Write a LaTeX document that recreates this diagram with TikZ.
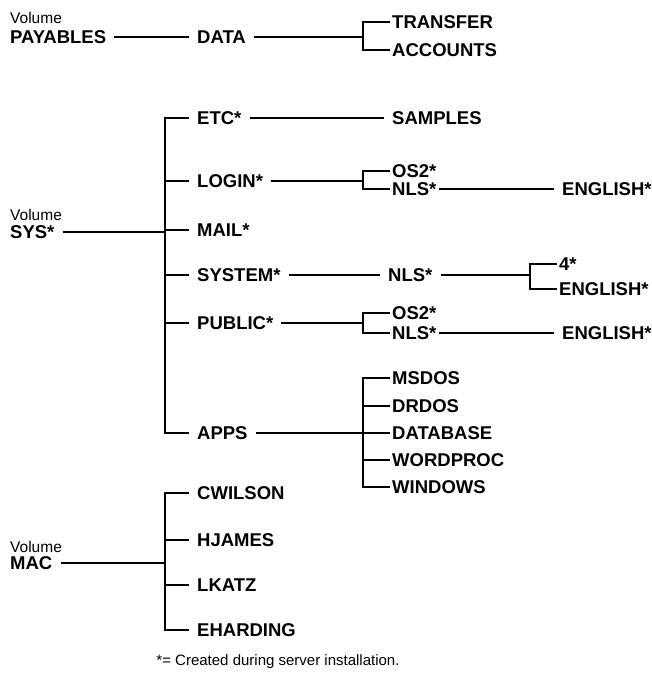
\documentclass[tikz,border=0pt]{standalone}
\usepackage{fontspec}
\setmainfont{Liberation Sans}
\usepackage{tikz}

\begin{document}
\begin{tikzpicture}[x=1pt, y=-1pt,
    folder/.style={anchor=west, font=\fontsize{18.5}{21}\selectfont\bfseries, inner xsep=8pt, inner ysep=1pt, text height=13pt, text depth=0pt},
    subfolder/.style={folder, inner xsep=2pt},
    volname/.style={anchor=west, font=\fontsize{15.5}{18}\selectfont, inner sep=0pt},
    note/.style={font=\fontsize{15}{18}\selectfont, inner sep=0pt},
    branch/.style={line width=1.8pt}]
    \useasboundingbox (0,0) rectangle (651,679);

    % Volume PAYABLES
    \node[volname] (V_PAY) at (10,18) {Volume};
    \node[folder] (D_PAY) at (2,37) {PAYABLES};
    \node[folder] (D_DATA) at (189,37) {DATA};
    \coordinate (B_DATA) at (363,37);
    \node[subfolder] (D_TRANSFER) at (390,22) {TRANSFER};
    \node[subfolder] (D_ACCOUNTS) at (390,50) {ACCOUNTS};

    % Volume SYS
    \node[volname] (V_SYS) at (10,215) {Volume};
    \node[folder] (D_SYS) at (2,232) {SYS*};
    \coordinate (T_SYS) at (165,232);
    \node[folder] (D_ETC) at (189,118) {ETC*};
    \node[folder] (D_SAMPLES) at (384,118) {SAMPLES};
    \node[folder] (D_LOGIN) at (189,181) {LOGIN*};
    \coordinate (B_LOGIN) at (363,181);
    \node[subfolder] (D_LOS2) at (390,171) {OS2*};
    \node[subfolder] (D_LNLS) at (390,189) {NLS*};
    \node[folder] (D_LENG) at (554,189) {ENGLISH*};
    \node[folder] (D_MAIL) at (189,230) {MAIL*};
    \node[folder] (D_SYSTEM) at (189,275) {SYSTEM*};
    \node[folder] (D_SNLS) at (380,275) {NLS*};
    \coordinate (B_SNLS) at (530,275);
    \node[subfolder] (D_S4) at (557,264) {4*};
    \node[subfolder] (D_SENG) at (557,289) {ENGLISH*};
    \node[folder] (D_PUBLIC) at (189,323) {PUBLIC*};
    \coordinate (B_PUBLIC) at (363,323);
    \node[subfolder] (D_POS2) at (390,313) {OS2*};
    \node[subfolder] (D_PNLS) at (390,333) {NLS*};
    \node[folder] (D_PENG) at (554,333) {ENGLISH*};
    \node[folder] (D_APPS) at (189,433) {APPS};
    \coordinate (B_APPS) at (363,433);
    \node[subfolder] (D_MSDOS) at (390,378) {MSDOS};
    \node[subfolder] (D_DRDOS) at (390,406) {DRDOS};
    \node[subfolder] (D_DATABASE) at (390,433) {DATABASE};
    \node[subfolder] (D_WORDPROC) at (390,460) {WORDPROC};
    \node[subfolder] (D_WINDOWS) at (390,487) {WINDOWS};

    % Volume MAC
    \node[volname] (V_MAC) at (10,547) {Volume};
    \node[folder] (D_MAC) at (2,563) {MAC};
    \coordinate (T_MAC) at (165,563);
    \node[folder] (D_CWILSON) at (189,493) {CWILSON};
    \node[folder] (D_HJAMES) at (189,540) {HJAMES};
    \node[folder] (D_LKATZ) at (189,585) {LKATZ};
    \node[folder] (D_EHARDING) at (189,630) {EHARDING};

    \node[note] (N_FOOT) at (278,662) {*= Created during server installation.};

    % Branches - PAYABLES
    \draw[branch] (D_PAY) -- (D_DATA); \draw[branch] (D_DATA) -- (B_DATA);
    \draw[branch] (D_TRANSFER.west) -| (B_DATA) |- (D_ACCOUNTS.west);

    % Branches - SYS
    \draw[branch] (D_SYS) -- (T_SYS);
    \draw[branch] (D_ETC.west) -| (T_SYS) |- (D_APPS.west);
    \foreach \d in {LOGIN, MAIL, SYSTEM, PUBLIC}
        \draw[branch] (T_SYS |- D_\d.west) -- (D_\d.west);

    \draw[branch] (D_ETC) -- (D_SAMPLES);
    \draw[branch] (D_LOGIN) -- (B_LOGIN);
    \draw[branch] (D_LOS2.west) -| (B_LOGIN) |- (D_LNLS.west);
    \draw[branch] (D_LNLS) -- (D_LENG);
    \draw[branch] (D_SYSTEM) -- (D_SNLS); \draw[branch] (D_SNLS) -- (B_SNLS);
    \draw[branch] (D_S4.west) -| (B_SNLS) |- (D_SENG.west);
    \draw[branch] (D_PUBLIC) -- (B_PUBLIC);
    \draw[branch] (D_POS2.west) -| (B_PUBLIC) |- (D_PNLS.west);
    \draw[branch] (D_PNLS) -- (D_PENG);
    \draw[branch] (D_APPS) -- (B_APPS);
    \draw[branch] (D_MSDOS.west) -| (B_APPS) |- (D_WINDOWS.west);
    \foreach \d in {DRDOS, DATABASE, WORDPROC}
        \draw[branch] (B_APPS |- D_\d.west) -- (D_\d.west);

    % Branches - MAC
    \draw[branch] (D_MAC) -- (T_MAC);
    \draw[branch] (D_CWILSON.west) -| (T_MAC) |- (D_EHARDING.west);
    \foreach \d in {HJAMES, LKATZ}
        \draw[branch] (T_MAC |- D_\d.west) -- (D_\d.west);

\end{tikzpicture}
\end{document}
